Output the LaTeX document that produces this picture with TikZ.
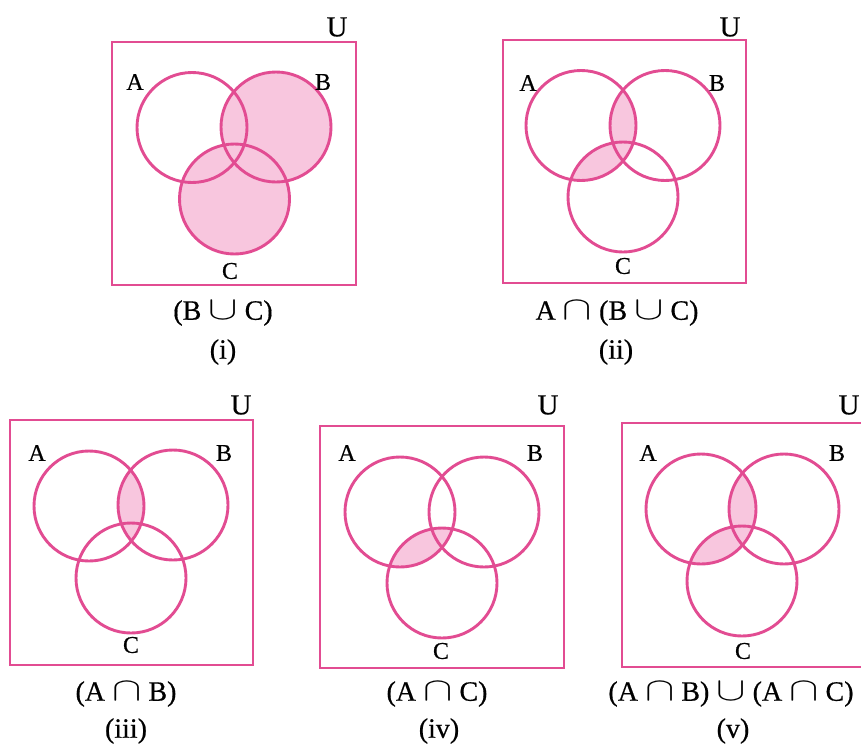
\documentclass[tikz,border=0pt]{standalone}
\usepackage{fontspec}
\setmainfont{Liberation Serif}[FakeBold=0.5]
\definecolor{vline}{RGB}{226,76,146}
\definecolor{vfill}{RGB}{248,198,222}
\newcommand{\vcap}{\hspace{7pt}\scalebox{4.4}[3.3]{\fontsize{10}{10}\selectfont$\cap$}\hspace{7pt}}
\newcommand{\vcup}{\hspace{7pt}\scalebox{4.4}[3.3]{\fontsize{10}{10}\selectfont$\cup$}\hspace{7pt}}
\begin{document}
\begin{tikzpicture}[x=1pt,y=-1pt,
  ring/.style={draw=vline,line width=2.9pt},
  box/.style={draw=vline,line width=2.9pt},
  shadefill/.style={fill=vfill},
  setlbl/.style={font=\fontsize{24}{24}\selectfont,inner sep=0pt},
  ulbl/.style={font=\fontsize{29}{29}\selectfont,inner sep=0pt},
  capa/.style={font=\fontsize{28}{28}\selectfont,inner sep=0pt},
  capb/.style={font=\fontsize{28}{28}\selectfont,inner sep=0pt}]
\useasboundingbox (0,0) rectangle (861,745);
\def\R{55pt}
% ---------- panel (i) ----------
\coordinate (iA) at (192,127.5);
\coordinate (iB) at (276,127);
\coordinate (iC) at (234.5,199);
\fill[shadefill] (iB) circle[radius=\R];
\fill[shadefill] (iC) circle[radius=\R];
\draw[box] (112,42) rectangle (356,285);
\draw[ring] (iA) circle[radius=\R];
\draw[ring] (iB) circle[radius=\R];
\draw[ring] (iC) circle[radius=\R];
\node[setlbl] (iLA) at (135,82) {A};
\node[setlbl] (iLB) at (323,82) {B};
\node[setlbl] (iLC) at (230,271) {C};
\node[ulbl] (iLU) at (337,27) {U};
\node[capa] (icap) at (223,313) {(B\vcup C)};
\node[capa] (inum) at (223,352) {(i)};
% ---------- panel (ii) ----------
\coordinate (iiA) at (581,125.5);
\coordinate (iiB) at (665,125.5);
\coordinate (iiC) at (623,197);
\begin{scope}
  \clip (iiA) circle[radius=\R];
  \fill[shadefill] (iiB) circle[radius=\R];
  \fill[shadefill] (iiC) circle[radius=\R];
\end{scope}
\draw[box] (503,40) rectangle (746,283);
\draw[ring] (iiA) circle[radius=\R];
\draw[ring] (iiB) circle[radius=\R];
\draw[ring] (iiC) circle[radius=\R];
\node[setlbl] (iiLA) at (528,83) {A};
\node[setlbl] (iiLB) at (717,83) {B};
\node[setlbl] (iiLC) at (623,266) {C};
\node[ulbl] (iiLU) at (730,27) {U};
\node[capa] (iicap) at (617,313) {A\vcap(B\vcup C)};
\node[capa] (iinum) at (616,352) {(ii)};
% ---------- panel (iii) ----------
\coordinate (iiiA) at (89,506);
\coordinate (iiiB) at (173,505);
\coordinate (iiiC) at (131,578);
\begin{scope}
  \clip (iiiA) circle[radius=\R];
  \fill[shadefill] (iiiB) circle[radius=\R];
\end{scope}
\draw[box] (10,420) rectangle (253,665);
\draw[ring] (iiiA) circle[radius=\R];
\draw[ring] (iiiB) circle[radius=\R];
\draw[ring] (iiiC) circle[radius=\R];
\node[setlbl] (iiiLA) at (37,453) {A};
\node[setlbl] (iiiLB) at (224,453) {B};
\node[setlbl] (iiiLC) at (131,645) {C};
\node[ulbl] (iiiLU) at (241,405) {U};
\node[capb] (iiicap) at (126,694) {(A\vcap B)};
\node[capb] (iiinum) at (126,731) {(iii)};
% ---------- panel (iv) ----------
\coordinate (ivA) at (400,512);
\coordinate (ivB) at (484,512);
\coordinate (ivC) at (442,583);
\begin{scope}
  \clip (ivA) circle[radius=\R];
  \fill[shadefill] (ivC) circle[radius=\R];
\end{scope}
\draw[box] (320,426) rectangle (564,668);
\draw[ring] (ivA) circle[radius=\R];
\draw[ring] (ivB) circle[radius=\R];
\draw[ring] (ivC) circle[radius=\R];
\node[setlbl] (ivLA) at (347,453) {A};
\node[setlbl] (ivLB) at (535,453) {B};
\node[setlbl] (ivLC) at (441,651) {C};
\node[ulbl] (ivLU) at (548,405) {U};
\node[capb] (ivcap) at (437,694) {(A\vcap C)};
\node[capb] (ivnum) at (439,731) {(iv)};
% ---------- panel (v) ----------
\coordinate (vA) at (701,509);
\coordinate (vB) at (784,509);
\coordinate (vC) at (742,581);
\begin{scope}
  \clip (vA) circle[radius=\R];
  \fill[shadefill] (vB) circle[radius=\R];
  \fill[shadefill] (vC) circle[radius=\R];
\end{scope}
\draw[box] (622,423) rectangle (875,667);
\draw[ring] (vA) circle[radius=\R];
\draw[ring] (vB) circle[radius=\R];
\draw[ring] (vC) circle[radius=\R];
\node[setlbl] (vLA) at (648,453) {A};
\node[setlbl] (vLB) at (837,453) {B};
\node[setlbl] (vLC) at (743,651) {C};
\node[ulbl] (vLU) at (849,405) {U};
\node[capb] (vcap) at (731,694) {(A\vcap B)\vcup(A\vcap C)};
\node[capb] (vnum) at (733,731) {(v)};
\end{tikzpicture}
\end{document}
